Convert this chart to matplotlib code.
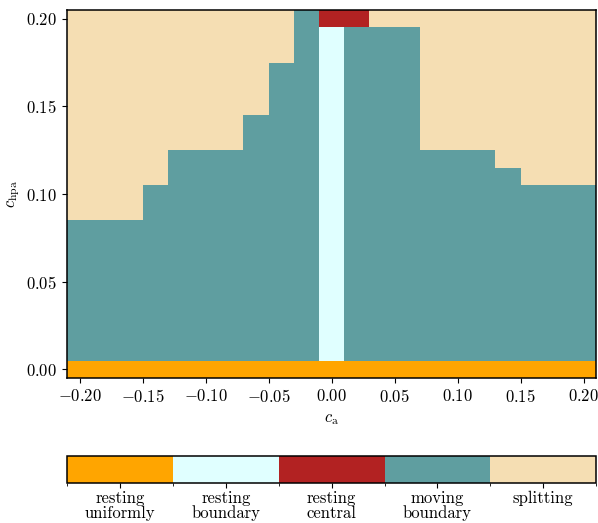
import numpy as np
import matplotlib
matplotlib.use("Agg")
import matplotlib.pyplot as plt
from matplotlib.colors import ListedColormap, BoundaryNorm

plt.rcParams['font.family'] = 'serif'
plt.rcParams['font.serif'] = ['cmr10']
plt.rcParams['mathtext.fontset'] = 'cm'
plt.rcParams['axes.formatter.use_mathtext'] = True
plt.rcParams['axes.unicode_minus'] = False
plt.rcParams['font.size'] = 12
plt.rcParams['axes.linewidth'] = 1.1

# parameter grid
c_a = [-0.20, -0.18, -0.16, -0.14, -0.12, -0.10, -0.08, -0.06, -0.04, -0.02, 0.00,
       0.02, 0.04, 0.06, 0.08, 0.10, 0.12, 0.14, 0.16, 0.18, 0.20]
c_hpa = [0.00, 0.01, 0.02, 0.03, 0.04, 0.05, 0.06, 0.07, 0.08, 0.09, 0.10,
         0.11, 0.12, 0.13, 0.14, 0.15, 0.16, 0.17, 0.18, 0.19, 0.20]

# first c_hpa value where splitting shows up, per c_a column (None = never)
split_onset = [0.09, 0.09, 0.09, 0.11, 0.13, 0.13, 0.13, 0.15, 0.18, None, None,
               None, 0.20, 0.20, 0.13, 0.13, 0.13, 0.12, 0.11, 0.11, 0.11]
# resting boundary column (c_a, c_hpa range)
rest_bnd_ca = 0.00
rest_bnd_range = (0.01, 0.19)
# resting central cells
rest_central = [(0.00, 0.20), (0.02, 0.20)]

labels = ['resting\nuniformly', 'resting\nboundary', 'resting\ncentral',
          'moving\nboundary', 'splitting']
colors = ['orange', 'lightcyan', 'firebrick', 'cadetblue', 'wheat']

# 0 rest unif, 1 rest bnd, 2 rest central, 3 moving, 4 splitting
phase = np.full((len(c_hpa), len(c_a)), 3)
for j, ca in enumerate(c_a):
    for i, ch in enumerate(c_hpa):
        if ch == 0.0:
            phase[i, j] = 0
        elif split_onset[j] is not None and ch >= split_onset[j] - 1e-9:
            phase[i, j] = 4
        if abs(ca - rest_bnd_ca) < 1e-9 and rest_bnd_range[0] - 1e-9 <= ch <= rest_bnd_range[1] + 1e-9:
            phase[i, j] = 1
for ca, ch in rest_central:
    phase[c_hpa.index(ch), c_a.index(ca)] = 2

cmap = ListedColormap(colors)
norm = BoundaryNorm(np.arange(-0.5, 5.5, 1), cmap.N)

fig = plt.figure(figsize=(5.98, 5.23), dpi=100)
ax = fig.add_axes([0.112, 0.277, 0.885, 0.704])
cax = fig.add_axes([0.112, 0.0765, 0.885, 0.052])

x_edges = np.concatenate([np.array(c_a) - 0.01, [c_a[-1] + 0.01]])
y_edges = np.concatenate([np.array(c_hpa) - 0.005, [c_hpa[-1] + 0.005]])
mesh = ax.pcolormesh(x_edges, y_edges, phase, cmap=cmap, norm=norm)
ax.set_xlim(x_edges[0], x_edges[-1])
ax.set_ylim(y_edges[0], y_edges[-1])
ax.set_xticks([-0.20, -0.15, -0.10, -0.05, 0.00, 0.05, 0.10, 0.15, 0.20])
ax.set_yticks([0.00, 0.05, 0.10, 0.15, 0.20])
fmt = plt.FuncFormatter(lambda v, p: r'$%.2f$' % v if abs(v) > 1e-9 else r'$0.00$')
ax.xaxis.set_major_formatter(fmt)
ax.yaxis.set_major_formatter(fmt)
ax.set_xlabel(r'$c_{\mathrm{a}}$', labelpad=5)
ax.set_ylabel(r'$c_{\mathrm{hpa}}$', labelpad=3)

cb = fig.colorbar(mesh, cax=cax, orientation='horizontal', ticks=range(5))
cb.ax.set_xticklabels(labels, linespacing=0.95)
cb.ax.tick_params(pad=2)
cb.outline.set_linewidth(1.1)

fig.savefig('out.png', dpi=100)
